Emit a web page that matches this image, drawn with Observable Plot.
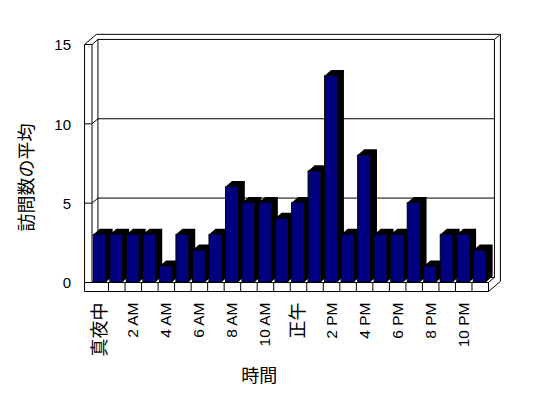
<!DOCTYPE html>
<html><head><meta charset="utf-8">
<script src="https://cdn.jsdelivr.net/npm/d3@7"></script>
<script src="https://cdn.jsdelivr.net/npm/@observablehq/plot@0.6"></script>
<style>html,body{margin:0;padding:0;background:#fff;overflow:hidden;}</style>
</head><body><div id="chart"></div>
<script>
// ---- data ----
const hours = [0,1,2,3,4,5,6,7,8,9,10,11,12,13,14,15,16,17,18,19,20,21,22,23];
const visits = [3,3,3,3,1,3,2,3,6,5,5,4,5,7,13,3,8,3,3,5,1,3,3,2];
const tickHours = [0,2,4,6,8,10,12,14,16,18,20,22];
const tickLabels = ["真夜中","2 AM","4 AM","6 AM","8 AM","10 AM","正午","2 PM","4 PM","6 PM","8 PM","10 PM"];
const yTicks = [0,5,10,15];
const xTitle = "時間";
const yTitle = "訪問数の平均";

// ---- 3D styling constants (in data units) ----
const N = hours.length, YMAX = 15;
const DX = 0.36, DY = 0.32;     // depth of floor / back wall
const TX = 0.45, FT = 0.57;     // left wall & floor thickness
const A = 0.11, B = 0.88;       // bar front face inside a slot
const BDX = 0.40, BDY = 0.36;   // bar depth

const rows = hours.map((h, i) => ({h, v: visits[i]}));
const shade = rows.flatMap(({h, v}) => [
  {h, x: h + A,       y1: v,   y2: v},
  {h, x: h + A + BDX, y1: v,   y2: v + BDY},
  {h, x: h + B,       y1: v,   y2: v + BDY},
  {h, x: h + B,       y1: 0,   y2: v + BDY},
  {h, x: h + B + BDX, y1: BDY, y2: v + BDY}
]);

const seg = (x1, y1, x2, y2) => ({x1, y1, x2, y2});
const frameSegs = [
  // back wall
  seg(DX, YMAX + DY, N + DX, YMAX + DY),
  seg(-TX + 2*DX, YMAX + 2*DY, N + 2*DX, YMAX + 2*DY),
  seg(N + DX, YMAX + DY, N + 2*DX, YMAX + 2*DY),
  seg(DX, YMAX + DY, DX, DY),
  seg(N + DX, YMAX + DY, N + DX, DY),
  seg(N + 2*DX, YMAX + 2*DY, N + 2*DX, 2*DY - FT),
  seg(DX, DY, N + DX, DY),
  // left wall
  seg(-TX, -FT, -TX, YMAX),
  seg(-TX, YMAX, 0, YMAX),
  seg(0, YMAX, 0, 0),
  seg(-TX, YMAX, -TX + 2*DX, YMAX + 2*DY),
  seg(0, YMAX, DX, YMAX + DY),
  seg(0, 0, DX, DY),
  // floor
  seg(-TX, 0, N, 0),
  seg(-TX, -FT, N, -FT),
  seg(N, 0, N, -FT),
  seg(N, -FT, N + 2*DX, 2*DY - FT),
  seg(N, 0, N + DX, DY)
];
const dividers = hours.slice(1).map(h => seg(h, 0, h, -FT));
const grid = yTicks.filter(t => t > 0 && t < YMAX);

const FONT = '"Liberation Sans", Arial, "Noto Sans CJK JP", sans-serif';
const isCJK = s => /[^\x00-\x7F]/.test(s);
const ticks = tickHours.map((h, i) => ({h, label: tickLabels[i]}));
const xLabelOpts = {x: d => d.h + 0.5, y: 0, text: "label", rotate: -90, textAnchor: "end", lineAnchor: "middle", dy: 20};

const chart = Plot.plot({
  width: 548,
  height: 398,
  marginLeft: 91.5,
  marginRight: 60,
  marginTop: 44,
  marginBottom: 116,
  x: {domain: [0, N], axis: null},
  y: {domain: [0, YMAX], axis: null},
  style: {fontFamily: FONT, background: "white", color: "black"},
  marks: [
    // back-wall gridlines and their continuation on the left wall
    Plot.ruleY(grid, {y: t => t + DY, x1: DX, x2: N + DX, stroke: "black", strokeOpacity: 1}),
    Plot.link(grid, {x1: 0, y1: t => t, x2: DX, y2: t => t + DY, stroke: "black"}),
    Plot.ruleY(grid, {y: t => t, x1: -TX, x2: 0, stroke: "black", strokeOpacity: 1}),
    Plot.link(frameSegs, {x1: "x1", y1: "y1", x2: "x2", y2: "y2", stroke: "black"}),
    Plot.link(dividers, {x1: "x1", y1: "y1", x2: "x2", y2: "y2", stroke: "black"}),
    // bars: dark side + top, then navy front face
    Plot.area(shade, {x1: "x", y1: "y1", y2: "y2", z: "h", fill: "black", curve: "linear"}),
    Plot.rect(rows, {x1: d => d.h + A, x2: d => d.h + B, y1: 0, y2: "v", fill: "#000080", stroke: "black", strokeWidth: 1}),
    // y tick labels
    Plot.text(yTicks, {x: 0, y: t => t, text: t => String(t), textAnchor: "end", lineAnchor: "middle", dx: -21, dy: 1, fontSize: 15}),
    // x tick labels (Latin and CJK sized separately)
    Plot.text(ticks.filter(d => !isCJK(d.label)), {...xLabelOpts, fontSize: 15.5}),
    Plot.text(ticks.filter(d => isCJK(d.label)), {...xLabelOpts, fontSize: 18}),
    // axis titles
    Plot.text([xTitle], {frameAnchor: "bottom", text: d => d, dx: -31, dy: 94, textAnchor: "middle", lineAnchor: "middle", fontSize: 18}),
    Plot.text([yTitle], {frameAnchor: "left", text: d => d, rotate: -90, dx: -65, dy: 14, textAnchor: "middle", lineAnchor: "middle", fontSize: 18})
  ]
});
document.getElementById("chart").appendChild(chart);
</script>
</body></html>
